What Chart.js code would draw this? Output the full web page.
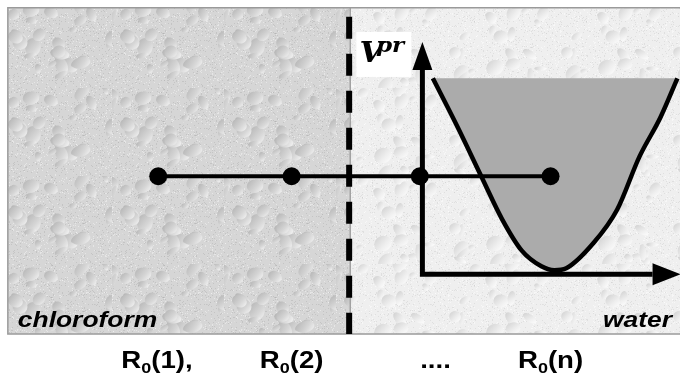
<!DOCTYPE html>
<html>
<head>
<meta charset="utf-8">
<script src="https://cdn.jsdelivr.net/npm/chart.js@4.4.1/dist/chart.umd.min.js"></script>
<style>
  body { margin: 0; background: #fff; }
  canvas { display: block; }
</style>
</head>
<body>
<canvas id="myChart" width="680" height="376"></canvas>
<script>
// ===== data ==========================================================

// positions of the solute along the path (x in R0 units)
const positionLabels = ["R0(1),", "R0(2)", "....", "R0(n)"];
const labelX = [1.0, 2.03, 3.13, 4.01];
const positionX = [1.01, 2.03, 3.01, 4.01];
const positionLevel = 5;

// restraint potential V^pr around R0(n)
const potentialX = [3.11, 3.3, 3.48, 3.64, 3.79, 3.94, 4.04, 4.13, 4.34, 4.52, 4.69, 4.85, 4.98];
const potentialV = [10, 7.5, 5.0, 2.8, 1.2, 0.4, 0.2, 0.3, 1.6, 3.3, 6.0, 8.0, 10];
const potentialTop = 10;

// small V / R axes
const axisOriginX = 3.03;
const axisOriginV = 0;
const vAxisHeadBase = 10.43;
const rAxisHeadBase = 4.79;

// the two phases
const phaseNames = ["chloroform", "water"];
const phaseBounds = [-0.14, 2.47, 5.0];
const frameTop = 13.6;
const frameBottom = -3.05;
const phaseLabelV = -2.7;
const positionLabelV = -4.8;

// ===== helpers =======================================================

function hash(n) {
  const s = Math.sin(n * 127.1 + 311.7) * 43758.5453;
  return s - Math.floor(s);
}

function makeTexture(base, dark, light, seed) {
  const c = document.createElement("canvas");
  c.width = 112;
  c.height = 88;
  const g = c.getContext("2d");
  g.fillStyle = base;
  g.fillRect(0, 0, c.width, c.height);
  for (let i = 0; i < 1400; i++) {
    const x = Math.floor(hash(seed + i * 3 + 1) * c.width);
    const y = Math.floor(hash(seed + i * 3 + 2) * c.height);
    g.globalAlpha = 0.5;
    g.fillStyle = hash(seed + i * 3 + 3) > 0.5 ? light : dark;
    g.fillRect(x, y, 1, 1);
  }
  g.globalAlpha = 1;
  for (let i = 0; i < 30; i++) {
    const x = hash(seed + i * 7 + 5000) * c.width;
    const y = hash(seed + i * 7 + 5001) * c.height;
    const rx = 2 + hash(seed + i * 7 + 5002) * 8;
    const ry = 2 + hash(seed + i * 7 + 5003) * 6;
    const rot = hash(seed + i * 7 + 5004) * Math.PI;
    const grad = g.createLinearGradient(x - rx, y - ry, x + rx, y + ry);
    grad.addColorStop(0, dark);
    grad.addColorStop(0.6, base);
    grad.addColorStop(1, light);
    g.fillStyle = grad;
    g.beginPath();
    g.ellipse(x, y, rx, ry, rot, 0, Math.PI * 2);
    g.fill();
  }
  return c;
}

const textures = [
  makeTexture("#d6d6d6", "#b2b2b2", "#f6f6f6", 11),
  makeTexture("#efefef", "#cfcfcf", "#ffffff", 77),
];

const TEXT_STRETCH = 1.2;

function drawStretched(ctx, pieces, x, y, align) {
  // pieces: [{text, font, dy}]
  let w = 0;
  pieces.forEach((p) => {
    ctx.font = p.font;
    p.w = ctx.measureText(p.text).width;
    w += p.w;
  });
  w *= TEXT_STRETCH;
  let start = x;
  if (align === "center") start = x - w / 2;
  if (align === "right") start = x - w;
  ctx.save();
  ctx.translate(start, y);
  ctx.scale(TEXT_STRETCH, 1);
  ctx.textAlign = "left";
  ctx.textBaseline = "alphabetic";
  ctx.fillStyle = "#000";
  let cx = 0;
  pieces.forEach((p) => {
    ctx.font = p.font;
    ctx.fillText(p.text, cx, p.dy || 0);
    cx += p.w;
  });
  ctx.restore();
}

// ===== plugin: phases, frame, arrows, labels =========================

const diagramPlugin = {
  id: "diagram",
  beforeDatasetsDraw(chart) {
    const ctx = chart.ctx;
    const xs = chart.scales.x;
    const ys = chart.scales.y;
    const top = ys.getPixelForValue(frameTop);
    const bottom = ys.getPixelForValue(frameBottom);
    ctx.save();
    ctx.fillStyle = "#fff";
    ctx.fillRect(0, 0, chart.width, chart.height);
    for (let i = 0; i < phaseNames.length; i++) {
      const l = xs.getPixelForValue(phaseBounds[i]);
      const r = xs.getPixelForValue(phaseBounds[i + 1]);
      ctx.fillStyle = ctx.createPattern(textures[i], "repeat");
      ctx.fillRect(l, top, r - l, bottom - top);
    }
    // frame
    ctx.strokeStyle = "#9a9a9a";
    ctx.lineWidth = 1.5;
    const l0 = xs.getPixelForValue(phaseBounds[0]);
    const rN = xs.getPixelForValue(phaseBounds[phaseBounds.length - 1]);
    ctx.beginPath();
    ctx.moveTo(rN, top);
    ctx.lineTo(l0, top);
    ctx.lineTo(l0, bottom);
    ctx.lineTo(rN, bottom);
    const mid = xs.getPixelForValue(phaseBounds[1]);
    ctx.moveTo(mid + 1, top);
    ctx.lineTo(mid + 1, bottom);
    ctx.stroke();
    ctx.restore();
  },
  afterDatasetsDraw(chart) {
    const ctx = chart.ctx;
    const xs = chart.scales.x;
    const ys = chart.scales.y;
    const ox = xs.getPixelForValue(axisOriginX);
    const oy = ys.getPixelForValue(axisOriginV);
    const vBase = ys.getPixelForValue(vAxisHeadBase);
    const rBase = xs.getPixelForValue(rAxisHeadBase);

    ctx.save();
    ctx.fillStyle = "#000";
    // arrow head on V axis
    ctx.beginPath();
    ctx.moveTo(ox - 10, vBase);
    ctx.lineTo(ox + 10, vBase);
    ctx.lineTo(ox, vBase - 28);
    ctx.closePath();
    ctx.fill();
    // arrow head on R axis
    ctx.beginPath();
    ctx.moveTo(rBase, oy - 11);
    ctx.lineTo(rBase, oy + 11);
    ctx.lineTo(rBase + 28, oy);
    ctx.closePath();
    ctx.fill();

    // V^pr label on white box
    const boxR = ox - 11;
    const boxT = vBase - 38;
    ctx.fillStyle = "#fff";
    ctx.fillRect(boxR - 55, boxT, 55, 45);
    ctx.save();
    ctx.translate(boxR - 52, boxT + 30);
    ctx.scale(1.1, 1);
    ctx.fillStyle = "#000";
    ctx.font = "bold italic 28px 'DejaVu Serif', serif";
    ctx.fillText("V", 0, 0);
    ctx.font = "bold italic 21px 'DejaVu Serif', serif";
    ctx.fillText("pr", 15, -10);
    ctx.restore();

    // phase names
    const labFont = "bold italic 22px 'Liberation Sans', Arial, sans-serif";
    const py = ys.getPixelForValue(phaseLabelV);
    drawStretched(ctx, [{ text: phaseNames[0], font: labFont }],
      xs.getPixelForValue(phaseBounds[0]) + 10, py, "left");
    drawStretched(ctx, [{ text: phaseNames[1], font: labFont }],
      xs.getPixelForValue(phaseBounds[2]) - 8, py, "right");

    // position labels below the frame
    const big = "bold 23px 'Liberation Sans', Arial, sans-serif";
    const small = "bold 15px 'Liberation Sans', Arial, sans-serif";
    const ly = ys.getPixelForValue(positionLabelV);
    positionLabels.forEach((lab, i) => {
      let pieces;
      if (lab.startsWith("R0")) {
        pieces = [
          { text: "R", font: big },
          { text: "0", font: small, dy: 5 },
          { text: lab.slice(2), font: big },
        ];
      } else {
        pieces = [{ text: lab, font: big }];
      }
      drawStretched(ctx, pieces, xs.getPixelForValue(labelX[i]), ly, "center");
    });
    ctx.restore();
  },
};

// ===== chart =========================================================

const dividerData = [
  { x: phaseBounds[1], y: frameTop },
  { x: phaseBounds[1], y: frameBottom },
];

const potentialData = potentialX.map((x, i) => ({ x: x, y: potentialV[i] }));

const axesData = [
  { x: axisOriginX, y: vAxisHeadBase },
  { x: axisOriginX, y: axisOriginV },
  { x: rAxisHeadBase, y: axisOriginV },
];

const positionData = positionX.map((x) => ({ x: x, y: positionLevel }));

let myChart = document.getElementById("myChart").getContext("2d");
let diagram = new Chart(myChart, {
  type: "scatter",
  data: {
    datasets: [
      {
        label: "interface",
        data: dividerData,
        showLine: true,
        borderColor: "#000",
        borderWidth: 6,
        borderDash: [22, 15],
        borderDashOffset: 28,
        pointRadius: 0,
        order: 5,
      },
      {
        label: "Vpr",
        data: potentialData,
        showLine: true,
        borderColor: "#000",
        borderWidth: 4.5,
        backgroundColor: "#ababab",
        fill: { value: potentialTop },
        cubicInterpolationMode: "monotone",
        pointRadius: 0,
        order: 4,
      },
      {
        label: "axes",
        data: axesData,
        showLine: true,
        borderColor: "#000",
        borderWidth: 5,
        borderJoinStyle: "miter",
        pointRadius: 0,
        order: 3,
      },
      {
        label: "positions",
        data: positionData,
        showLine: true,
        borderColor: "#000",
        borderWidth: 4,
        pointRadius: 9,
        pointBackgroundColor: "#000",
        pointBorderWidth: 0,
        order: 1,
      },
    ],
  },
  options: {
    responsive: false,
    animation: false,
    devicePixelRatio: 1,
    layout: { padding: 0, autoPadding: false },
    scales: {
      x: { type: "linear", min: -0.2, max: 5.0, display: false },
      y: { type: "linear", min: -5.2, max: 14, display: false },
    },
    plugins: {
      legend: { display: false },
      tooltip: { enabled: false },
    },
  },
  plugins: [diagramPlugin],
});
</script>
</body>
</html>
